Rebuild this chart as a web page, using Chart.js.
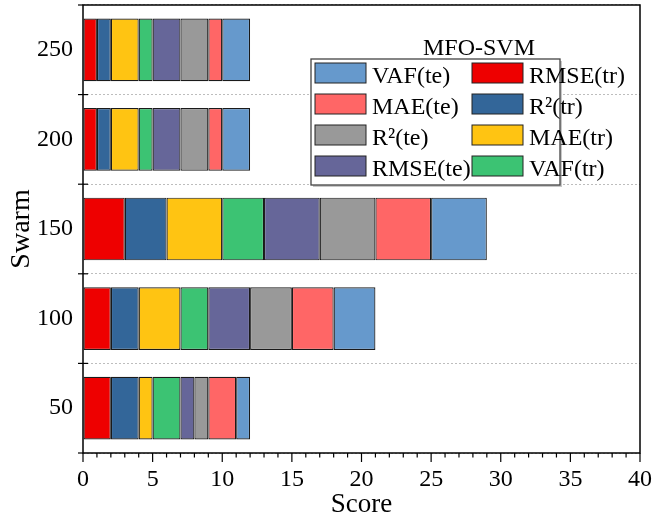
<!DOCTYPE html>
<html>
<head>
<meta charset="utf-8">
<script src="https://cdn.jsdelivr.net/npm/chart.js@4"></script>
<style>
  html, body { margin: 0; padding: 0; background: #fff; }
  #wrap { width: 653px; height: 521px; }
</style>
</head>
<body>
<div id="wrap"><canvas id="c" width="653" height="521"></canvas></div>
<script>
// Swarm sizes (bottom to top)
const swarms = ['50', '100', '150', '200', '250'];

// Score of each indicator per swarm size
const rmseTr = [2, 2, 3, 1, 1];
const r2Tr   = [2, 2, 3, 1, 1];
const maeTr  = [1, 3, 4, 2, 2];
const vafTr  = [2, 2, 3, 1, 1];
const rmseTe = [1, 3, 4, 2, 2];
const r2Te   = [1, 3, 4, 2, 2];
const maeTe  = [2, 3, 4, 1, 1];
const vafTe  = [1, 3, 4, 2, 2];

const seriesNames  = ['RMSE(tr)', 'R\u00B2(tr)', 'MAE(tr)', 'VAF(tr)', 'RMSE(te)', 'R\u00B2(te)', 'MAE(te)', 'VAF(te)'];
const seriesValues = [rmseTr, r2Tr, maeTr, vafTr, rmseTe, r2Te, maeTe, vafTe];
const seriesColors = ['#EE0000', '#336699', '#FFC412', '#3CC373', '#666699', '#999999', '#FF6666', '#6699CC'];

const FONT = 'Liberation Serif';

// Frame around the plot plus the hand-placed tick marks
const framePlugin = {
  id: 'frame',
  afterDatasetsDraw(chart) {
    const { ctx, chartArea: a, scales } = chart;
    const xs = scales.x, ys = scales.y;
    ctx.save();
    ctx.strokeStyle = '#000';
    ctx.lineWidth = 1.5;
    ctx.strokeRect(a.left, a.top, a.right - a.left, a.bottom - a.top);

    // x ticks: major every 5, minor every 1, pointing outward
    ctx.lineWidth = 1.2;
    for (let v = 0; v <= 40; v++) {
      const px = xs.getPixelForValue(v);
      const len = v % 5 === 0 ? 9 : 4.5;
      ctx.beginPath();
      ctx.moveTo(px, a.bottom);
      ctx.lineTo(px, a.bottom + len);
      ctx.stroke();
    }
    // y ticks at the category boundaries, crossing the axis
    const n = swarms.length;
    for (let i = 0; i <= n; i++) {
      const py = ys.getPixelForValue(i - 0.5);
      const inner = (i === 0 || i === n) ? 0 : 5;
      ctx.beginPath();
      ctx.moveTo(a.left - 5, py);
      ctx.lineTo(a.left + inner, py);
      ctx.stroke();
    }
    ctx.restore();
  }
};

// Two-column legend box with title
const legendPlugin = {
  id: 'boxLegend',
  afterDraw(chart) {
    const { ctx } = chart;
    const ds = chart.data.datasets;
    const box = { x: 311, y: 59, w: 249, h: 126 };
    ctx.save();
    // soft shadow
    ctx.fillStyle = '#c8c8c8';
    ctx.fillRect(box.x + 2, box.y + 2, box.w, box.h);
    ctx.fillStyle = '#fff';
    ctx.fillRect(box.x, box.y, box.w, box.h);
    ctx.strokeStyle = '#444';
    ctx.lineWidth = 1.3;
    ctx.strokeRect(box.x, box.y, box.w, box.h);

    ctx.fillStyle = '#000';
    ctx.font = '24px "' + FONT + '"';
    ctx.textAlign = 'center';
    ctx.textBaseline = 'alphabetic';
    ctx.fillText('MFO-SVM', 479, 55);

    const columns = [[7, 6, 5, 4], [0, 1, 2, 3]];
    const colX = [315, 472];
    ctx.textAlign = 'left';
    columns.forEach((col, c) => {
      col.forEach((idx, r) => {
        const sy = 63 + r * 31;
        const sx = colX[c];
        ctx.fillStyle = ds[idx].backgroundColor;
        ctx.fillRect(sx, sy, 51, 20);
        ctx.strokeStyle = '#222';
        ctx.lineWidth = 1;
        ctx.strokeRect(sx, sy, 51, 20);
        ctx.fillStyle = '#000';
        ctx.fillText(ds[idx].label, sx + 57, sy + 20);
      });
    });
    ctx.restore();
  }
};

new Chart(document.getElementById('c'), {
  type: 'bar',
  data: {
    labels: swarms,
    datasets: seriesNames.map((name, i) => ({
      label: name,
      data: seriesValues[i],
      backgroundColor: seriesColors[i],
      borderColor: '#1a1a1a',
      borderWidth: 1.2,
      borderSkipped: false,
      barPercentage: 0.7,
      categoryPercentage: 1.0
    }))
  },
  options: {
    indexAxis: 'y',
    responsive: false,
    animation: false,
    layout: { padding: { top: 5, right: 13, left: 0, bottom: 0 } },
    plugins: { legend: { display: false }, tooltip: { enabled: false } },
    scales: {
      x: {
        stacked: true,
        min: 0,
        max: 40,
        ticks: { stepSize: 5, color: '#000', padding: 12, maxRotation: 0,
                 font: { family: FONT, size: 24 } },
        grid: { drawOnChartArea: false, drawTicks: false },
        border: { display: false },
        title: { display: true, text: 'Score', color: '#000',
                 font: { family: FONT, size: 27 }, padding: { top: 0, bottom: 0 } },
        afterFit(s) { s.height = 68; s.paddingLeft = 0; s.paddingRight = 0; }
      },
      y: {
        stacked: true,
        reverse: true,
        ticks: { color: '#000', padding: 10, font: { family: FONT, size: 24 } },
        grid: { offset: true, drawTicks: false, color: '#bdbdbd', lineWidth: 1 },
        border: { display: false, dash: [2, 2] },
        title: { display: true, text: 'Swarm', color: '#000',
                 font: { family: FONT, size: 28 }, padding: { top: 5, bottom: 0 } },
        afterFit(s) { s.width = 83; s.paddingTop = 0; s.paddingBottom = 0; }
      }
    }
  },
  plugins: [framePlugin, legendPlugin]
});
</script>
</body>
</html>
